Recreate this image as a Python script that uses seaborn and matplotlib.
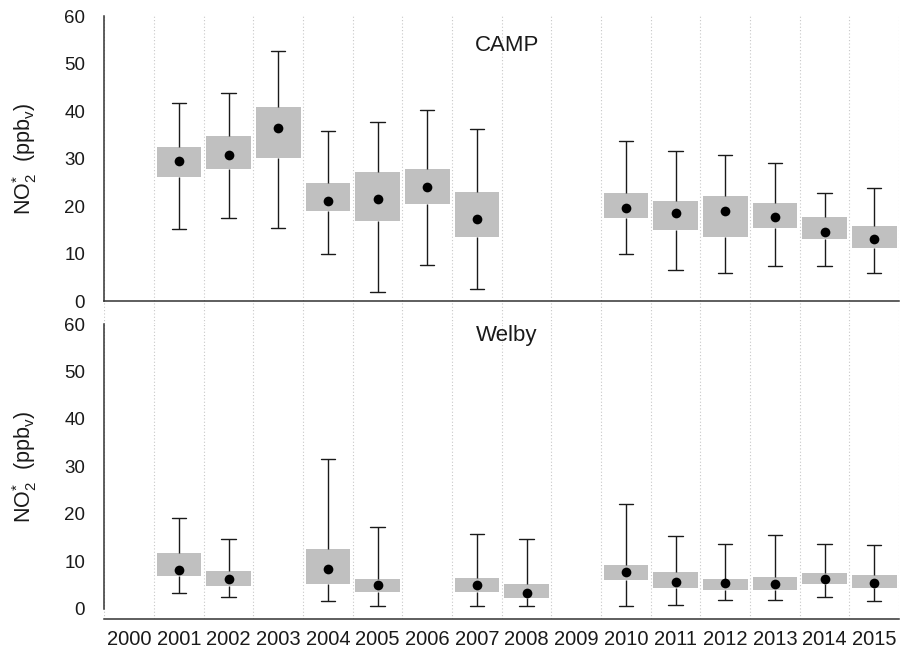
import numpy as np
import pandas as pd
import matplotlib
matplotlib.use("Agg")
import matplotlib.pyplot as plt
import seaborn as sns

# Annual NO2* statistics (ppbv): whisker ends, box edges and the mean
years = [str(y) for y in range(2000, 2016)]
nan = np.nan

camp_whisk_lo = [nan, 15.2, 17.6, 15.4, 9.9, 2.0, 7.7, 2.5, nan, nan, 9.9, 6.5, 6.0, 7.5, 7.4, 6.0]
camp_box_lo   = [nan, 26.1, 27.8, 30.2, 19.0, 16.9, 20.4, 13.6, nan, nan, 17.5, 15.0, 13.6, 15.3, 13.1, 11.2]
camp_mean     = [nan, 29.4, 30.8, 36.5, 21.1, 21.6, 24.1, 17.3, nan, nan, 19.7, 18.6, 19.0, 17.8, 14.6, 13.0]
camp_box_hi   = [nan, 32.5, 34.7, 40.8, 24.9, 27.1, 27.8, 22.9, nan, nan, 22.7, 21.0, 22.1, 20.7, 17.7, 15.9]
camp_whisk_hi = [nan, 41.6, 43.7, 52.6, 35.9, 37.8, 40.3, 36.3, nan, nan, 33.8, 31.6, 30.8, 29.1, 22.7, 23.8]

welby_whisk_lo = [nan, 3.3, 2.4, nan, 1.5, 0.6, nan, 0.6, 0.6, nan, 0.6, 0.8, 1.8, 1.7, 2.5, 1.5]
welby_box_lo   = [nan, 6.8, 4.7, nan, 5.1, 3.4, nan, 3.4, 2.3, nan, 6.1, 4.3, 4.0, 3.9, 5.1, 4.3]
welby_mean     = [nan, 8.2, 6.3, nan, 8.4, 4.9, nan, 4.9, 3.2, nan, 7.7, 5.7, 5.4, 5.1, 6.3, 5.3]
welby_box_hi   = [nan, 11.8, 8.0, nan, 12.6, 6.2, nan, 6.5, 5.2, nan, 9.2, 7.8, 6.3, 6.6, 7.5, 7.0]
welby_whisk_hi = [nan, 19.0, 14.7, nan, 31.6, 17.2, nan, 15.8, 14.6, nan, 22.1, 15.3, 13.7, 15.6, 13.7, 13.5]

sites = {
    "CAMP": (camp_whisk_lo, camp_box_lo, camp_mean, camp_box_hi, camp_whisk_hi),
    "Welby": (welby_whisk_lo, welby_box_lo, welby_mean, welby_box_hi, welby_whisk_hi),
}


def site_frames(stats):
    """Long table of the five summary numbers per year plus a table of means."""
    rows = []
    for i, yr in enumerate(years):
        vals = [s[i] for s in stats]
        if np.isnan(vals[2]):
            continue
        for v in vals:
            rows.append({"year": yr, "value": v})
    box_df = pd.DataFrame(rows)
    mean_df = pd.DataFrame({"year": years, "mean": stats[2]}).dropna()
    return box_df, mean_df


sns.set_style("white")
plt.rcParams["font.family"] = ["Liberation Sans", "DejaVu Sans"]
plt.rcParams["mathtext.fontset"] = "custom"
plt.rcParams["mathtext.rm"] = "Liberation Sans"
plt.rcParams["mathtext.it"] = "Liberation Sans:italic"

fig = plt.figure(figsize=(9.0, 6.51), dpi=100)
left, right = 0.1161, 0.9989
ax_top = fig.add_axes([left, 0.5023, right - left, 0.9754 - 0.5023])
ax_bot = fig.add_axes([left, 0.0492, right - left, 0.5023 - 0.0492])

spine_col = "#333333"
ylab = r"NO$_\mathregular{2}^{\mathregular{*}}$  (ppb$_\mathregular{v}$)"

for ax, (name, stats), ylo, title_y, lab_y in [
    (ax_top, list(sites.items())[0], -4.8, 53.8, 0.537),
    (ax_bot, list(sites.items())[1], -2.2, 57.6, 0.515),
]:
    box_df, mean_df = site_frames(stats)
    sns.boxplot(
        data=box_df, x="year", y="value", order=years, ax=ax,
        whis=(0, 100), width=0.9, color="#c0c0c0", saturation=1,
        linecolor="#1a1a1a", linewidth=1.0, showfliers=False,
        boxprops=dict(linewidth=0, edgecolor="#c0c0c0"),
        medianprops=dict(linewidth=0),
        capwidths=0.29,
    )
    sns.stripplot(
        data=mean_df, x="year", y="mean", order=years, ax=ax,
        jitter=False, color="black", size=7.0, linewidth=0, zorder=5,
    )
    ax.set_xlim(-0.5, len(years) - 0.5)
    ax.set_ylim(ylo, 60)
    ax.set_yticks(np.arange(0, 61, 10))
    ax.set_xticks(np.arange(-0.5, len(years)), minor=True)
    ax.grid(which="minor", axis="x", ls=(0, (1, 2)), color="#c8c8c8", lw=0.8)
    ax.grid(which="major", axis="x", visible=False)
    ax.grid(axis="y", visible=False)
    ax.set_axisbelow(True)

    for s in ("top", "right"):
        ax.spines[s].set_visible(False)
    ax.spines["left"].set_bounds(0, 60)
    for s in ("left", "bottom"):
        ax.spines[s].set_color(spine_col)
        ax.spines[s].set_linewidth(1.1)

    ax.tick_params(axis="y", which="major", direction="out", length=9,
                   width=1.0, color=spine_col, labelsize=13.5, pad=5,
                   labelcolor="#1a1a1a")
    ax.set_xlabel("")
    ax.set_ylabel(ylab, fontsize=15.5, color="#1a1a1a")
    ax.yaxis.set_label_coords(-0.082, lab_y)
    ax.text(7.6, title_y, name, ha="center", va="center", fontsize=16,
            color="#1a1a1a")

# Upper panel: horizontal axis sits at zero, no year labels
ax_top.spines["bottom"].set_position(("data", 0))
ax_top.tick_params(axis="x", which="both", length=0, labelbottom=False)

# Lower panel: year labels between boundary ticks
ax_bot.set_xticks(range(len(years)))
ax_bot.set_xticklabels(years)
ax_bot.tick_params(axis="x", which="major", length=0, labelsize=14.5,
                   pad=8, labelcolor="#1a1a1a")
ax_bot.tick_params(axis="x", which="minor", direction="out", length=6.5,
                   width=1.0, color=spine_col)

fig.savefig("out.png", dpi=100)
